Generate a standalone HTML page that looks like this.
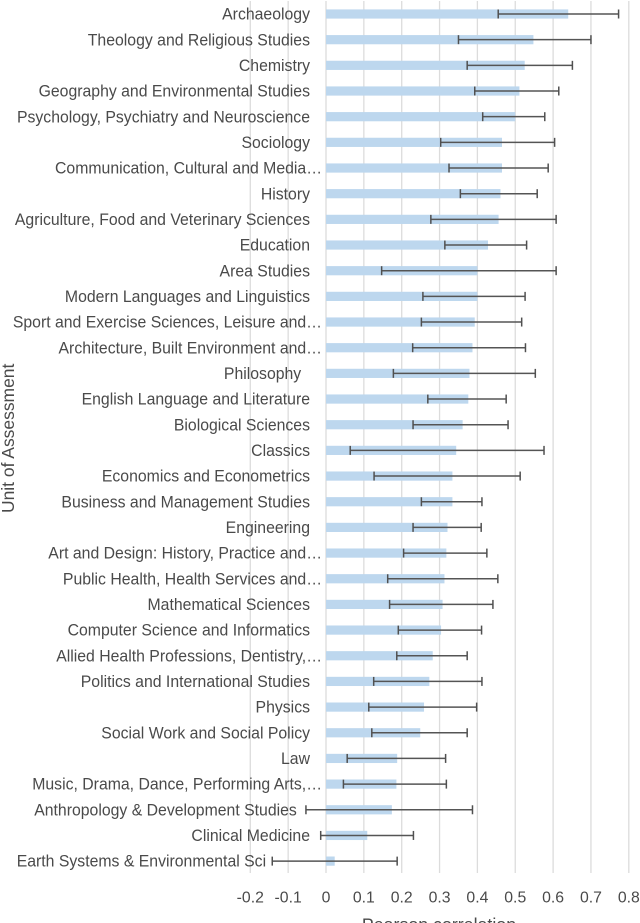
<!DOCTYPE html>
<html>
<head>
<meta charset="utf-8">
<style>
html,body{margin:0;padding:0;background:#fff;width:640px;height:923px;overflow:hidden}
svg{display:block}
text{font-family:"Liberation Sans",sans-serif;fill:#4a4a4a;white-space:pre}
</style>
</head>
<body>
<svg id="chart" width="640" height="923" viewBox="0 0 640 923" xmlns="http://www.w3.org/2000/svg">
<text transform="translate(14,513) rotate(-90) scale(.97,1)" font-size="18">Unit of Assessment</text>
<text x="439" y="930.5" text-anchor="middle" font-size="17.8">Pearson correlation</text>
</svg>
<script>
const categories = ["Archaeology","Theology and Religious Studies","Chemistry","Geography and Environmental Studies","Psychology, Psychiatry and Neuroscience","Sociology","Communication, Cultural and Media…","History","Agriculture, Food and Veterinary Sciences","Education","Area Studies","Modern Languages and Linguistics","Sport and Exercise Sciences, Leisure and…","Architecture, Built Environment and…","Philosophy  ","English Language and Literature","Biological Sciences","Classics","Economics and Econometrics","Business and Management Studies","Engineering","Art and Design: History, Practice and…","Public Health, Health Services and…","Mathematical Sciences","Computer Science and Informatics","Allied Health Professions, Dentistry,…","Politics and International Studies","Physics","Social Work and Social Policy","Law","Music, Drama, Dance, Performing Arts,…","Anthropology & Development Studies   ","Clinical Medicine","Earth Systems & Environmental Sci          "];
const correlation = [0.64,0.548,0.525,0.511,0.50,0.465,0.465,0.461,0.456,0.428,0.40,0.40,0.393,0.387,0.379,0.376,0.361,0.344,0.334,0.334,0.321,0.318,0.313,0.308,0.304,0.282,0.273,0.259,0.249,0.188,0.186,0.174,0.109,0.023];
const lowerBound = [0.455,0.35,0.373,0.393,0.414,0.303,0.325,0.355,0.277,0.314,0.147,0.256,0.252,0.229,0.178,0.269,0.23,0.064,0.127,0.252,0.23,0.205,0.163,0.168,0.191,0.187,0.126,0.113,0.121,0.056,0.046,-0.053,-0.014,-0.142];
const upperBound = [0.773,0.70,0.651,0.615,0.578,0.604,0.587,0.558,0.608,0.53,0.608,0.526,0.517,0.527,0.553,0.476,0.481,0.576,0.513,0.412,0.41,0.425,0.454,0.441,0.411,0.373,0.412,0.398,0.373,0.316,0.318,0.387,0.231,0.188];
const xTicks = [-0.2,-0.1,0,0.1,0.2,0.3,0.4,0.5,0.6,0.7,0.8];

const NS = "http://www.w3.org/2000/svg";
const svg = document.getElementById("chart");
const xScale = v => 326 + 378.5 * v;
const yScale = i => 14 + 25.67 * i;

function make(tag, attrs) {
  const el = document.createElementNS(NS, tag);
  for (const k in attrs) el.setAttribute(k, attrs[k]);
  return el;
}

xTicks.forEach(t => {
  const line = make("line", {x1: xScale(t), x2: xScale(t), y1: 1, y2: 873, stroke: "#dcdcdc", "stroke-width": 1.3});
  
  
  svg.appendChild(line);
  const label = make("text", {x: xScale(t), y: 902.5, "text-anchor": "middle", "font-size": 15.8});
  
  
  label.textContent = String(t);
  svg.appendChild(label);
});

categories.forEach((name, i) => {
  const y = yScale(i);
  const truncated = name.endsWith("…");
  const label = make("text", {
    transform: "translate(" + (truncated ? 322 : 310) + "," + (y + 5.6) + ") scale(.93,1)",
    "text-anchor": "end",
    "font-size": 17
  });
  
  
  label.textContent = name;
  svg.appendChild(label);

  const x0 = xScale(0);
  const x1 = xScale(correlation[i]);
  const bar = make("rect", {x: x0, y: y - 4.6, width: x1 - x0, height: 9.2, fill: "#bdd7ee"});
  
  
  svg.appendChild(bar);

  const lo = xScale(lowerBound[i]);
  const hi = xScale(upperBound[i]);
  const err = make("line", {x1: lo, x2: hi, y1: y, y2: y, stroke: "#555", "stroke-width": 1.5});
  
  
  svg.appendChild(err);

  const capLow = make("line", {x1: lo, x2: lo, y1: y - 4.5, y2: y + 4.5, stroke: "#505050", "stroke-width": 1.5});
  
  
  svg.appendChild(capLow);

  const capHigh = make("line", {x1: hi, x2: hi, y1: y - 4.5, y2: y + 4.5, stroke: "#505050", "stroke-width": 1.5});
  
  
  svg.appendChild(capHigh);
});
</script>
</body>
</html>
